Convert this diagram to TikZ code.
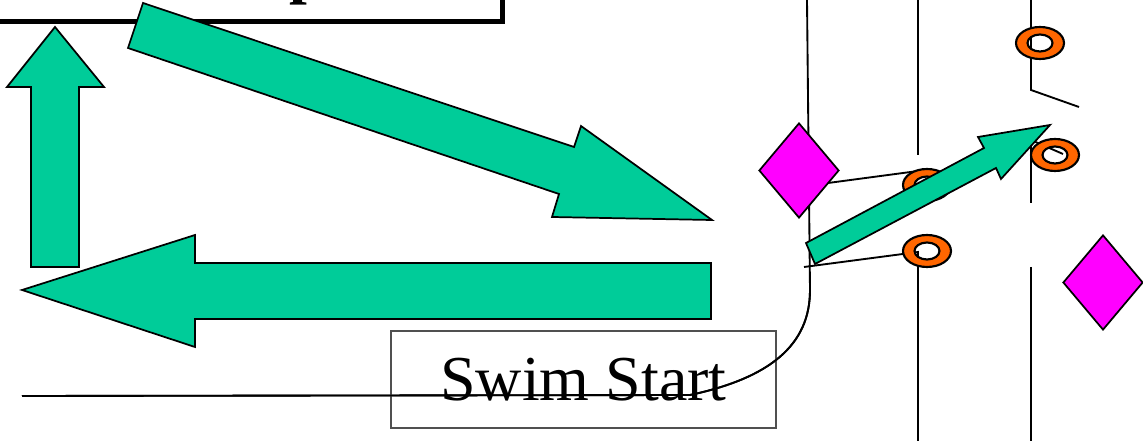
\documentclass[tikz,border=0pt]{standalone}
\usepackage{fontspec}
\setmainfont{Liberation Serif}
\usetikzlibrary{shapes.geometric}

\definecolor{swimgreen}{RGB}{0,204,153}
\definecolor{markmagenta}{RGB}{255,0,255}
\definecolor{buoyorange}{RGB}{255,102,0}
\definecolor{boxgray}{RGB}{80,80,80}

\tikzset{every picture/.style={line width=0.75pt}}
\tikzset{
  flowarrow/.style={draw=black, fill=swimgreen, line width=1.3},
  marker/.style={diamond, draw=black, fill=markmagenta, line width=1.3, inner sep=0,
    minimum width=60pt, minimum height=71.25pt},
  buoyring/.style={draw=black, fill=buoyorange, even odd rule, line width=1.6},
  course/.style={draw=black, line width=1.4},
}

\begin{document}
\begin{tikzpicture}[x=0.75pt,y=0.75pt,yscale=-1,xscale=1]
\useasboundingbox (0,0) rectangle (1143,441);
\clip (0,0) rectangle (1143,441);

% Coordinates
\coordinate (buoyA) at (1040,43);
\coordinate (buoyB) at (1055,155);
\coordinate (buoyC) at (927,251);
\coordinate (buoyD) at (927,185);
\coordinate (lapEnd) at (22,396);
\coordinate (turnTop) at (807,0);

%Straight Lines
\draw [course] (lapEnd) -- (690,395) .. controls (770,378) and (810,345) .. (810,290) -- (turnTop) ;
%Straight Lines
\draw [course] (828,183) -- (918,171) ;
%Straight Lines
\draw [course] (804,267) -- (918,252) -- (918,441) ;
%Straight Lines
\draw [course] (918,0) -- (918,155) ;
%Straight Lines
\draw [course] (1031,0) -- (1031,90) -- (1079,107) ;
%Straight Lines
\draw [course] (1063,154) -- (1031,140) -- (1031,203) ;
%Straight Lines
\draw [course] (1031,267) -- (1031,441) ;

%Shape: Rectangle
\draw [line width=3.75] (-20,-60) rectangle (502.5,21.5) ;
% Text Node
\node [anchor=base west, inner sep=0, font=\fontsize{48}{50}\selectfont\bfseries] (title) at (289,-8) {p};

%Shape: Buoys
\draw [buoyring] (buoyA) ellipse (24 and 16) (buoyA) ellipse (12.5 and 8.5) ;
\draw [buoyring] (buoyB) ellipse (24 and 16) (buoyB) ellipse (12.5 and 8.5) ;
\draw [buoyring] (buoyC) ellipse (24 and 16) (buoyC) ellipse (12.5 and 8.5) ;
\draw [buoyring] (buoyD) ellipse (24 and 16) (buoyD) ellipse (12.5 and 8.5) ;

%Shape: Diamond
\node [marker] (markL) at (799,170.5) {};
%Shape: Diamond
\node [marker] (markR) at (1103,282.5) {};

%Shape: Up Arrow
\draw [flowarrow] (31,267) -- (31,87) -- (7,87) -- (55,27) -- (104,87) -- (79,87) -- (79,267) -- cycle ;
%Shape: Left Arrow
\draw [flowarrow] (711,263) -- (195,263) -- (195,235) -- (22,290) -- (195,347) -- (195,319) -- (711,319) -- cycle ;
%Shape: Right Arrow
\draw [flowarrow] (143,3) -- (574,147) -- (581,126) -- (712,220) -- (552,217) -- (559,194) -- (128,48) -- cycle ;
%Shape: Right Arrow
\draw [flowarrow] (806,243) -- (984,148) -- (978,137) -- (1050,125) -- (1001,179) -- (996,168) -- (815,264) -- cycle ;

% Text Node
\node [draw=boxgray, line width=0.9, inner sep=0, minimum width=288.75pt, minimum height=72.75pt,
  font=\fontsize{48}{50}\selectfont] (swimStart) at (583.5,379.5) {Swim Start};
%Straight Lines
\draw [course] (lapEnd) -- (690,395) .. controls (770,378) and (810,345) .. (810,290) ;

\end{tikzpicture}
\end{document}
